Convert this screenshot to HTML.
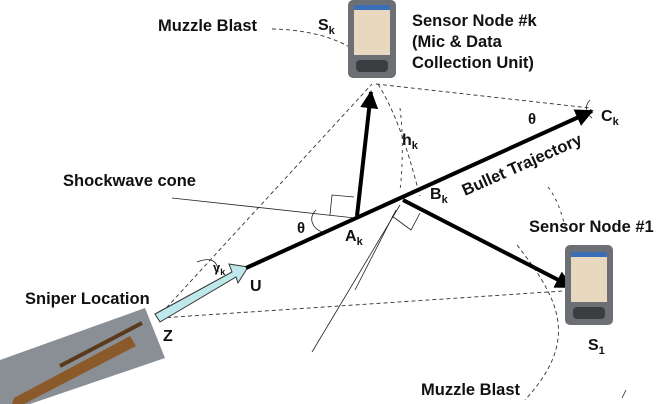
<!DOCTYPE html>
<html><head><meta charset="utf-8"><style>
body{margin:0;background:#fff}
svg{display:block}
text{font-family:"Liberation Sans",sans-serif;font-weight:bold;fill:#111}
</style></head><body>
<svg width="660" height="404" viewBox="0 0 660 404">
<defs>
<marker id="ah" viewBox="0 0 10 10" refX="9" refY="5" markerWidth="4.5" markerHeight="4.5" orient="auto"><path d="M0,0L10,5L0,10z" fill="#000"/></marker>
</defs>
<g stroke="#333" stroke-width="0.9" fill="none" stroke-dasharray="4,3">
<line x1="157" y1="318" x2="372" y2="84"/>
<line x1="160" y1="318" x2="578" y2="290"/>
<line x1="376" y1="84" x2="590" y2="108"/>
<path d="M272,29 C330,30 360,50 372,66"/>
<path d="M378,84 C400,120 410,160 420,196"/>
<path d="M400,108 C404,140 402,175 400,190" stroke-dasharray="3,4"/>
<path d="M517,245 C560,300 580,340 525,400"/>
<path d="M548,187 C558,200 562,215 566,230" stroke-dasharray="3,4"/>
</g>
<g stroke="#222" stroke-width="0.8" fill="none">
<line x1="172" y1="198" x2="355" y2="218"/>
<polyline points="330,215 332,195 354,197"/>
<line x1="400" y1="205" x2="312" y2="352"/>
<line x1="396" y1="210" x2="355" y2="290"/>
<polyline points="392,216 411,230 420,213"/>
<path d="M316,210 C308,218 312,228 322,232"/>
<path d="M590,100 C584,106 586,114 592,118"/>
<path d="M197,262 C212,256 218,262 218,272"/>
<line x1="622" y1="398" x2="626" y2="390"/>
</g>
<polygon points="155,314 232,272 229,264 248,267 238,283 236,277 160,322" fill="#bfe8ec" stroke="#333" stroke-width="1"/>
<line x1="246" y1="268" x2="592" y2="111" stroke="#000" stroke-width="4" marker-end="url(#ah)"/>
<line x1="357" y1="216" x2="371" y2="92" stroke="#000" stroke-width="4" marker-end="url(#ah)"/>
<line x1="403" y1="200" x2="572" y2="287" stroke="#000" stroke-width="4" marker-end="url(#ah)"/>
<g>
<rect x="348" y="0" width="48" height="78" rx="5" fill="#6c6f74"/>
<rect x="354" y="5" width="36" height="50" fill="#e9d8c0"/>
<rect x="354" y="5" width="36" height="5" fill="#3a6fb8"/>
<rect x="356" y="60" width="32" height="12" rx="4" fill="#3b3d40"/>
<rect x="565" y="245" width="48" height="80" rx="5" fill="#6c6f74"/>
<rect x="571" y="252" width="36" height="50" fill="#e9d8c0"/>
<rect x="571" y="252" width="36" height="5" fill="#3a6fb8"/>
<rect x="573" y="307" width="32" height="12" rx="4" fill="#3b3d40"/>
</g>
<polygon points="0,360 145,308 165,358 30,404 0,404" fill="#8a8f96"/>
<polygon points="14,398 130,336 136,346 24,404 12,404" fill="#8b5a2b"/>
<line x1="60" y1="366" x2="142" y2="323" stroke="#5a3a1a" stroke-width="4"/>
<text x="158" y="31" font-size="16.5">Muzzle Blast</text>
<text x="318" y="30" font-size="16">S<tspan font-size="11" dy="4">k</tspan></text>
<text x="412" y="26" font-size="16.5">Sensor Node #k</text>
<text x="412" y="47" font-size="16.5">(Mic &amp; Data</text>
<text x="412" y="68" font-size="16.5">Collection Unit)</text>
<text x="63" y="186" font-size="16.5">Shockwave cone</text>
<text x="528" y="124" font-size="15" font-weight="normal">θ</text>
<text x="601" y="121" font-size="16">C<tspan font-size="11" dy="4">k</tspan></text>
<text x="402" y="145" font-size="16">h<tspan font-size="11" dy="4">k</tspan></text>
<text x="430" y="199" font-size="16">B<tspan font-size="11" dy="4">k</tspan></text>
<text x="0" y="0" font-size="16.5" transform="translate(465,196) rotate(-24)">Bullet Trajectory</text>
<text x="297" y="233" font-size="15" font-weight="normal">θ</text>
<text x="345" y="241" font-size="16">A<tspan font-size="11" dy="4">k</tspan></text>
<text x="529" y="232" font-size="16.5">Sensor Node #1</text>
<text x="213" y="272" font-size="13" font-weight="normal" font-family="Liberation Serif">γ<tspan font-size="9" dy="3">k</tspan></text>
<text x="250" y="291" font-size="16">U</text>
<text x="25" y="304" font-size="16.5">Sniper Location</text>
<text x="163" y="341" font-size="16">Z</text>
<text x="588" y="350" font-size="16">S<tspan font-size="11" dy="4">1</tspan></text>
<text x="421" y="395" font-size="16.5">Muzzle Blast</text>
</svg>
</body></html>
